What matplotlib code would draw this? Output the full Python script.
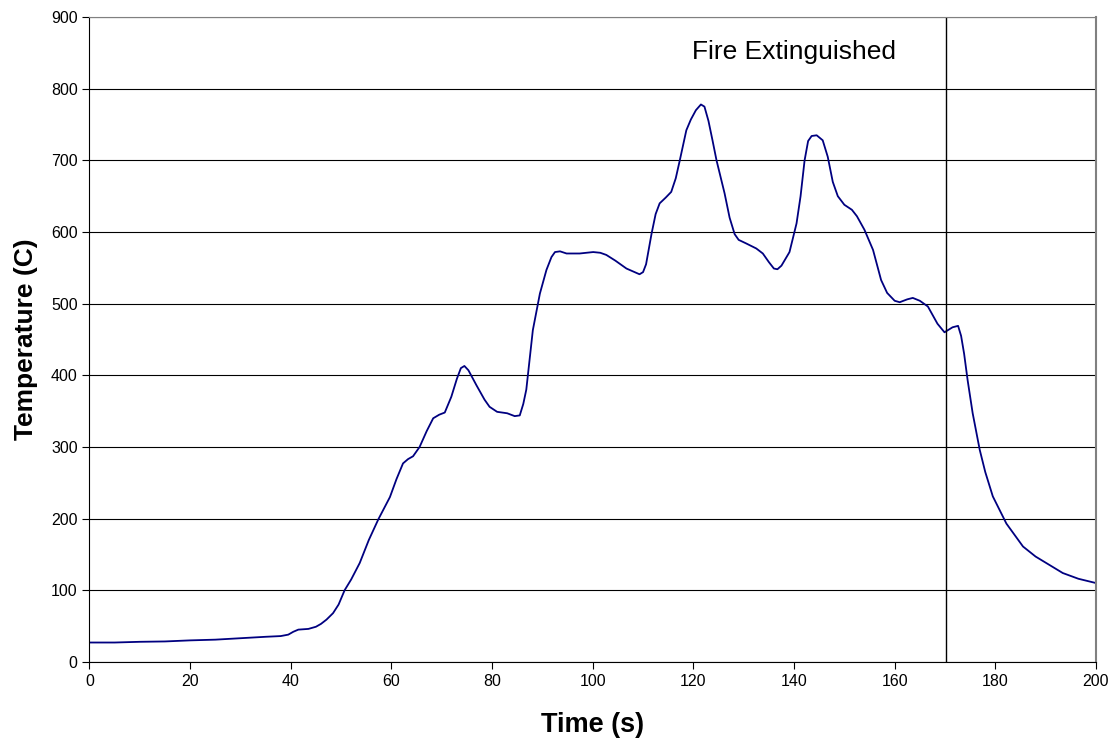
import matplotlib
matplotlib.use("Agg")
import matplotlib.pyplot as plt

# Temperature readings (time in s, temperature in C)
time_s = [0, 5, 10, 15, 20, 25, 30, 35, 38, 39.5, 40.5, 41.5, 43.5, 45, 46, 47.1,
          48.4, 49.5, 50.7, 52, 53.7, 55.5, 57.4, 59.7, 61, 62.3, 63.3, 64.3, 65.6,
          67, 68.3, 69.5, 70.6, 71.9, 73, 73.8, 74.5, 75.3, 76.9, 78.5, 79.5, 81,
          83, 84.5, 85.5, 86.2, 86.8, 87.5, 88.1, 89.5, 90.8, 91.8, 92.5, 93.5,
          94.8, 97.4, 100.1, 101.5, 102.7, 104.5, 106.7, 108, 109.3, 110, 110.6,
          111.7, 112.5, 113.3, 114.5, 115.6, 116.5, 117.3, 118.6, 119.5, 120.5,
          121.5, 122.2, 123, 123.8, 124.6, 126.2, 127.2, 128.2, 129, 130.5, 132.5,
          133.8, 135, 136, 136.7, 137.5, 139.1, 140.5, 141.3, 142.1, 142.8, 143.5,
          144.5, 145.7, 146.7, 147.7, 148.7, 150, 151.5, 152.5, 154, 155.7, 157.3,
          158.5, 160, 161, 162.5, 163.6, 165, 166.6, 168.5, 169.9, 171.5, 172.6,
          173.2, 173.8, 174.5, 175.5, 176.9, 178, 179.5, 182.2, 185.5, 188, 190.1,
          193.4, 196.5, 200]
temp_c = [27, 27, 28, 28.5, 30, 31, 33, 35, 36, 38, 42, 45, 46, 49, 53, 59,
          68, 80, 100, 115, 138, 170, 199, 230, 255, 277, 283, 287, 300,
          322, 340, 345, 348, 370, 395, 410, 413, 407, 386, 366, 356, 349,
          347, 343, 344, 360, 380, 425, 463, 514, 547, 565, 572, 573,
          570, 570, 572, 571, 568, 560, 549, 545, 541, 544, 555,
          598, 625, 640, 648, 656, 675, 700, 742, 757, 770,
          778, 775, 755, 728, 700, 654, 620, 597, 589, 584, 577,
          570, 558, 549, 548, 553, 572, 612, 650, 700, 727, 734,
          735, 728, 705, 670, 650, 638, 631, 622, 603, 575, 533,
          515, 504, 502, 506, 508, 504, 496, 472, 460, 467, 469,
          455, 430, 393, 347, 296, 265, 231, 193, 161, 147, 138,
          124, 116, 110]

extinguish_time = 170.2

plt.rcParams['font.family'] = ['Liberation Sans', 'DejaVu Sans']

fig = plt.figure(figsize=(11.13, 7.42), dpi=100)
ax = fig.add_axes([0.0804, 0.108, 0.9043, 0.869])

ax.plot(time_s, temp_c, color="#000080", linewidth=1.3, solid_joinstyle="round")
ax.axvline(extinguish_time, color="black", linewidth=1.0)
ax.text(140, 851, "Fire Extinguished", fontsize=19, ha="center", va="center")

#Axes
ax.set_xlim(0, 200)
ax.set_ylim(0, 900)
ax.set_xticks(range(0, 201, 20))
ax.set_yticks(range(0, 901, 100))
ax.grid(True, axis="y", color="black", linewidth=0.8)
ax.set_axisbelow(True)
ax.tick_params(direction="out", length=5, labelsize=11.5, width=0.8)
ax.spines["top"].set_color("#808080")
ax.spines["right"].set_color("#808080")
ax.spines["right"].set_linewidth(1.5)

#Decorations
ax.set_xlabel("Time (s)", fontsize=19.5, fontweight="bold", labelpad=17)
ax.set_ylabel("Temperature (C)", fontsize=19, fontweight="bold", labelpad=9)

fig.savefig("out.png", dpi=100)
